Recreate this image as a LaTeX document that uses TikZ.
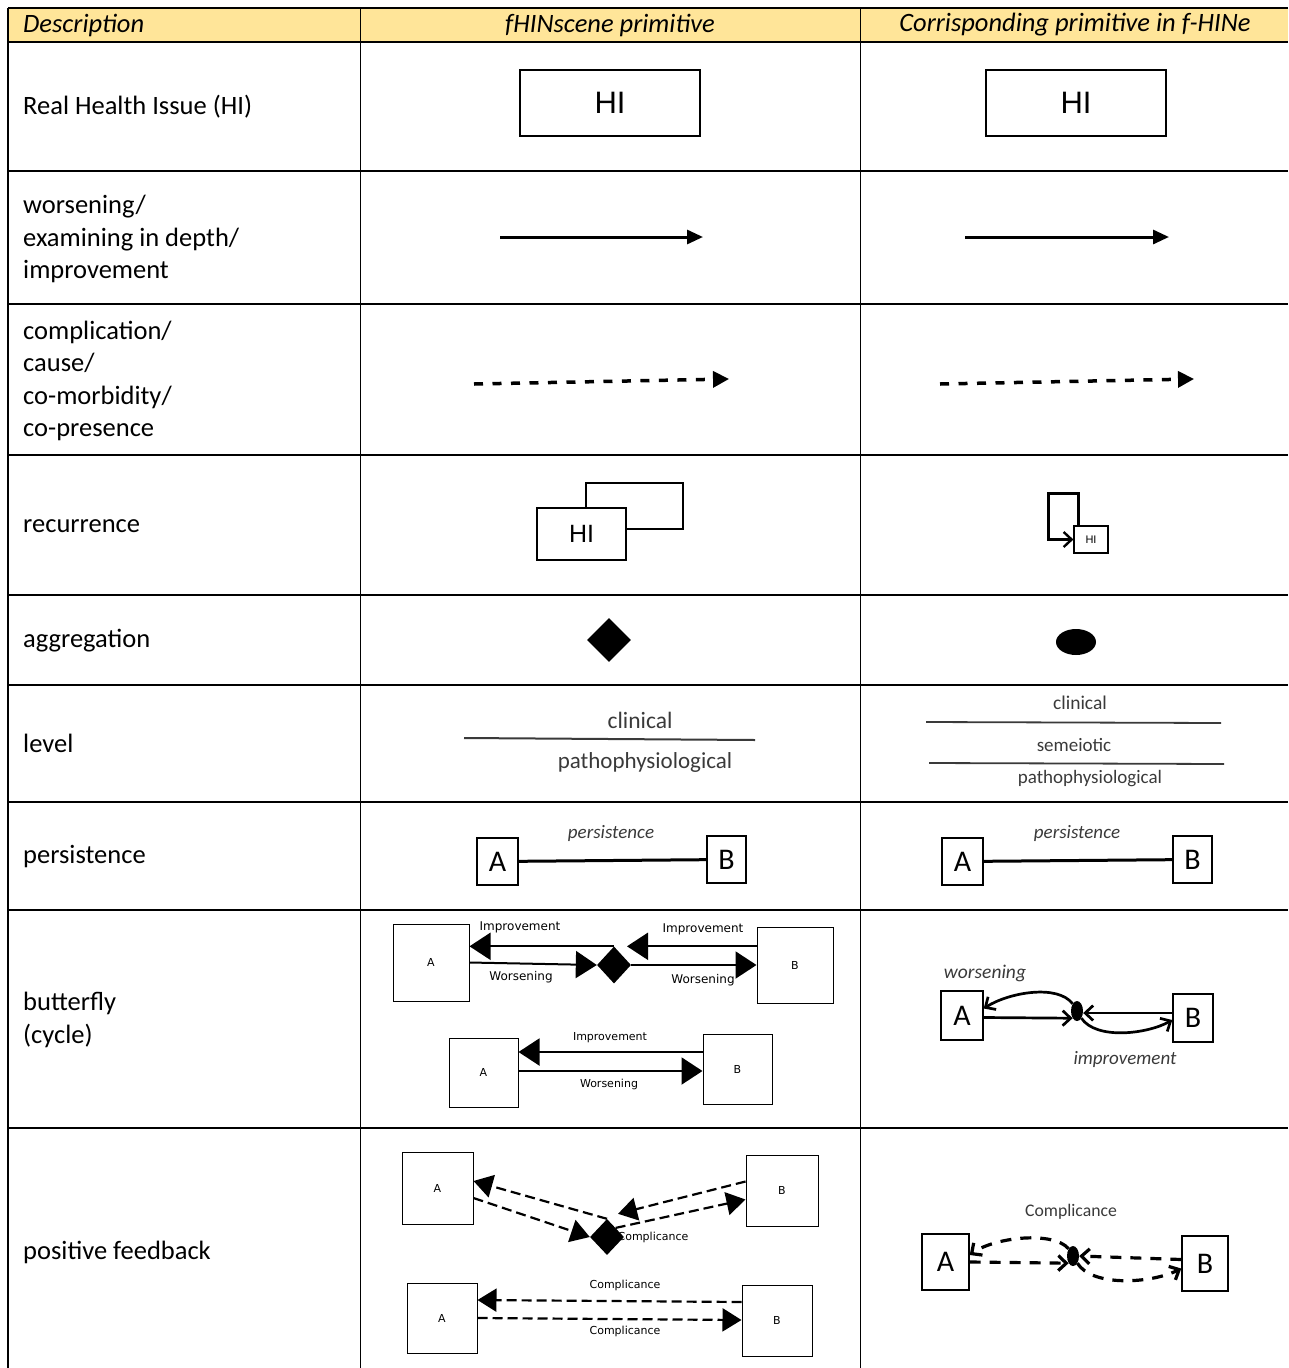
\documentclass[tikz,border=0pt]{standalone}
\usepackage{fontspec}
\setmainfont{Carlito}
\newfontfamily\tahomafont{DejaVu Sans}
\newfontfamily\arialfont{Liberation Sans}
\usetikzlibrary{arrows.meta,shapes.geometric}
\definecolor{headfill}{HTML}{FFE599}
\definecolor{labelgray}{HTML}{3A3A3A}

\begin{document}
\begin{tikzpicture}
[x=1pt,y=-1pt,
  celltext/.style={anchor=west,align=left,inner sep=0pt,font=\fontsize{26.5}{32.6}\selectfont},
  headtext/.style={inner sep=0pt,font=\fontsize{26.5}{32}\selectfont\itshape},
  gridline/.style={line width=2pt},
  hibox/.style={draw,line width=1.6pt,inner sep=0pt,font=\arialfont\fontsize{31}{31}\selectfont},
  letterbox/.style={draw,line width=1.4pt,inner sep=0pt,minimum width=41pt,minimum height=47pt,font=\fontsize{30}{30}\selectfont},
  smallbox/.style={draw,line width=1pt,inner sep=0pt,font=\tahomafont\fontsize{11}{11}\selectfont},
  smalltext/.style={inner sep=0pt,font=\tahomafont\fontsize{#1}{#1}\selectfont},
  figtext/.style={inner sep=0pt,text=labelgray,font=\fontsize{#1}{#1}\selectfont},
  figital/.style={inner sep=0pt,text=labelgray,font=\fontsize{#1}{#1}\selectfont\itshape},
  aggrdiamond/.style={diamond,fill=black,inner sep=0pt,minimum size=44pt},
  aggrdot/.style={ellipse,fill=black,inner sep=0pt,minimum width=#1},
  solidarrow/.style={line width=3pt,-{Triangle[length=16pt,width=14pt]}},
  dasharrow/.style={line width=3.5pt,dash pattern=on 9pt off 9.5pt,-{Triangle[length=16pt,width=16pt]}},
  bigarrow/.style={line width=2pt,-{Triangle[length=21pt,width=27pt]}},
  bigdash/.style={line width=2.2pt,dash pattern=on 10pt off 5pt,-{Triangle[length=19pt,width=23pt]}},
  barb/.style={line width=2.7pt,-{Straight Barb[length=8pt,width=15pt]}},
  barbdash/.style={barb,line width=3.2pt,dash pattern=on 11pt off 9pt}]
\useasboundingbox (0,0) rectangle (1288,1368);
%% header and grid
\fill[headfill] (8,8) rectangle (1288,42);
\foreach \y in {8,42,171,304,455,595,685,802,910,1128}
  \draw[gridline] (8,\y) -- (1288,\y);
\foreach \x in {360,860}
  \draw[line width=1pt] (\x,8) -- (\x,1368);
\draw[line width=1.5pt] (8,8) -- (8,1368);
\node[headtext,anchor=west] (hdesc) at (23,25) {Description};
\node[headtext] (hprim) at (610,25) {fHINscene primitive};
\node[headtext] (hcorr) at (1075,25) {Corrisponding primitive in f-HINe};
%% description column
\node[celltext] (dhi) at (23,107) {Real Health Issue (HI)};
\node[celltext] (dworse) at (23,239) {worsening/\\examining in depth/\\improvement};
\node[celltext] (dcompl) at (23,381) {complication/\\cause/\\co-morbidity/\\co-presence};
\node[celltext] (drecur) at (23,526) {recurrence};
\node[celltext] (daggr) at (23,641) {aggregation};
\node[celltext] (dlevel) at (23,743) {level};
\node[celltext] (dpers) at (23,857) {persistence};
\node[celltext] (dbutt) at (23,1020) {butterfly\\(cycle)};
\node[celltext] (dfeed) at (23,1252) {positive feedback};
%% health issue
\node[hibox,minimum width=180pt,minimum height=66pt] (hione) at (610,103) {HI};
\node[hibox,minimum width=180pt,minimum height=66pt] (hitwo) at (1076,103) {HI};
%% worsening arrows
\coordinate (wones) at (500,237);
\coordinate (wonee) at (703,237);
\coordinate (wtwos) at (965,237);
\coordinate (wtwoe) at (1169,237);
\draw[solidarrow] (wones) -- (wonee);
\draw[solidarrow] (wtwos) -- (wtwoe);
%% complication arrows
\coordinate (cones) at (474,384);
\coordinate (conee) at (729,379);
\coordinate (ctwos) at (940,384);
\coordinate (ctwoe) at (1194,379);
\draw[dasharrow] (cones) -- (conee);
\draw[dasharrow] (ctwos) -- (ctwoe);
%% recurrence
\node[draw,line width=1.6pt,minimum width=97pt,minimum height=46pt] (hiback) at (634.5,506) {};
\node[hibox,fill=white,minimum width=89pt,minimum height=52pt,font=\arialfont\fontsize{25}{25}\selectfont] (hifront) at (581.5,534) {HI};
\node[hibox,line width=1.2pt,minimum width=34pt,minimum height=27pt,font=\arialfont\fontsize{11}{11}\selectfont] (hismall) at (1091,539.5) {HI};
\draw[barb,line width=2.4pt] ([xshift=5pt]hismall.north west) -- ++(0,-32) -- ++(-30,0) |- (hismall.west);
%% aggregation
\node[aggrdiamond] (aggone) at (609,640) {};
\node[aggrdot=40pt,minimum height=26pt] (aggtwo) at (1076,642) {};
%% level
\node[figtext=23.5] (lvcone) at (640,720) {clinical};
\node[figtext=23] (lvpone) at (645,762) {pathophysiological};
\draw[line width=2pt,labelgray] (464,738) -- (755,740);
\node[figtext=19.5] (lvctwo) at (1080,703) {clinical};
\node[figtext=19] (lvstwo) at (1074,745) {semeiotic};
\node[figtext=19] (lvptwo) at (1090,779) {pathophysiological};
\draw[line width=1.8pt,labelgray] (926,722) -- (1221,723);
\draw[line width=1.8pt,labelgray] (929,763) -- (1224,764);
%% persistence
\node[letterbox] (paone) at (497.5,861.5) {A};
\node[letterbox,minimum width=39pt] (pbone) at (726.5,859.5) {B};
\node[letterbox] (patwo) at (962.5,861.5) {A};
\node[letterbox,minimum width=39pt] (pbtwo) at (1192.5,859.5) {B};
\draw[line width=3pt] (paone) -- (pbone);
\draw[line width=3pt] (patwo) -- (pbtwo);
\node[figital=19] (plone) at (611,833) {persistence};
\node[figital=19] (pltwo) at (1077,833) {persistence};
%% butterfly, fHINscene
\node[smallbox,minimum width=76pt,minimum height=77pt] (baone) at (431,962.5) {A};
\node[smallbox,minimum width=76pt,minimum height=76pt] (bbone) at (795,965) {B};
\node[aggrdiamond,minimum width=34pt,minimum height=37pt] (bdone) at (614,965) {};
\draw[bigarrow] (bdone.north) -- (bdone.north -| baone.east);
\draw[bigarrow] (baone.east) -- (bdone.west);
\draw[bigarrow] (bbone.west |- bdone.north) -- ([xshift=13pt]bdone.north);
\draw[bigarrow] (bdone.east) -- (bbone.west);
\node[smalltext=12] (bimpone) at (520,927) {Improvement};
\node[smalltext=12] (bworone) at (521,977) {Worsening};
\node[smalltext=12] (bimptwo) at (703,929) {Improvement};
\node[smalltext=12] (bwortwo) at (703,980) {Worsening};
\node[smallbox,minimum width=69pt,minimum height=69pt] (batwo) at (483.5,1072.5) {A};
\node[smallbox,minimum width=69pt,minimum height=70pt] (bbtwo) at (737.5,1069) {B};
\draw[bigarrow] ([yshift=17pt]bbtwo.west) -- ([yshift=20.5pt]batwo.east);
\draw[bigarrow] ([yshift=1.5pt]batwo.east) -- ([yshift=-2pt]bbtwo.west);
\node[smalltext=11] (bimpthree) at (610,1038) {Improvement};
\node[smalltext=11] (bworthree) at (609,1084) {Worsening};
%% butterfly, f-HINe
\node[letterbox,minimum width=42pt,minimum height=49pt] (bathree) at (962,1015.5) {A};
\node[letterbox,minimum width=40pt,minimum height=48pt] (bbthree) at (1193,1018) {B};
\node[aggrdot=12pt,minimum height=20pt] (bdot) at (1077,1011) {};
\draw[barb] ([yshift=-2pt]bathree.east) -- (bdot.south west);
\draw[barb] (bdot.north west) .. controls +(-15,-20) and +(25,-16) .. ([yshift=7pt]bathree.east);
\draw[barb] ([yshift=5pt]bbthree.west) -- ([yshift=-2pt]bdot.east);
\draw[barb] (bdot.south east) .. controls +(15,22) and +(-25,14) .. ([yshift=-2pt]bbthree.west);
\node[figital=19.5] (bwlab) at (985,973) {worsening};
\node[figital=19] (bilab) at (1125,1059) {improvement};
%% positive feedback, fHINscene
\node[smallbox,minimum width=71pt,minimum height=72pt] (faone) at (437.5,1188) {A};
\node[smallbox,minimum width=72pt,minimum height=71pt] (fbone) at (782,1190.5) {B};
\node[smalltext=11] (fcone) at (653,1237) {Complicance};
\node[aggrdiamond,minimum width=34pt,minimum height=36pt] (fdone) at (607,1237) {};
\draw[bigdash] (fdone.north) -- ([yshift=7pt]faone.east);
\draw[bigdash] ([yshift=-10pt]faone.east) -- (fdone.west);
\draw[bigdash] ([yshift=9pt]fbone.west) -- ([xshift=11pt,yshift=5pt]fdone.north);
\draw[bigdash] (fdone.north east) -- ([yshift=-9pt]fbone.west);
\node[smallbox,minimum width=70pt,minimum height=70pt] (fatwo) at (442,1318) {A};
\node[smallbox,minimum width=70pt,minimum height=71pt] (fbtwo) at (777,1320.5) {B};
\draw[bigdash] ([yshift=18.5pt]fbtwo.west) -- ([yshift=18pt]fatwo.east);
\draw[bigdash] (fatwo.east) -- ([yshift=0.5pt]fbtwo.west);
\node[smalltext=11] (fctwo) at (625,1285) {Complicance};
\node[smalltext=11] (fcthree) at (625,1331) {Complicance};
%% positive feedback, f-HINe
\node[letterbox,minimum width=47pt,minimum height=56pt] (fathree) at (945.5,1262) {A};
\node[letterbox,minimum width=46pt,minimum height=55pt] (fbthree) at (1205,1263.5) {B};
\node[aggrdot=12pt,minimum height=20pt] (fdot) at (1073,1256) {};
\draw[barbdash] (fathree.east) -- (fdot.south west);
\draw[barbdash] (fdot.north west) .. controls +(-15,-18) and +(25,-18) .. ([yshift=7pt]fathree.east);
\draw[barbdash] ([yshift=4pt]fbthree.west) -- (fdot.east);
\draw[barbdash] (fdot.south east) .. controls +(15,24) and +(-30,15) .. ([yshift=-5pt]fbthree.west);
\node[figtext=17.7] (fclab) at (1071,1212) {Complicance};
\end{tikzpicture}
\end{document}
